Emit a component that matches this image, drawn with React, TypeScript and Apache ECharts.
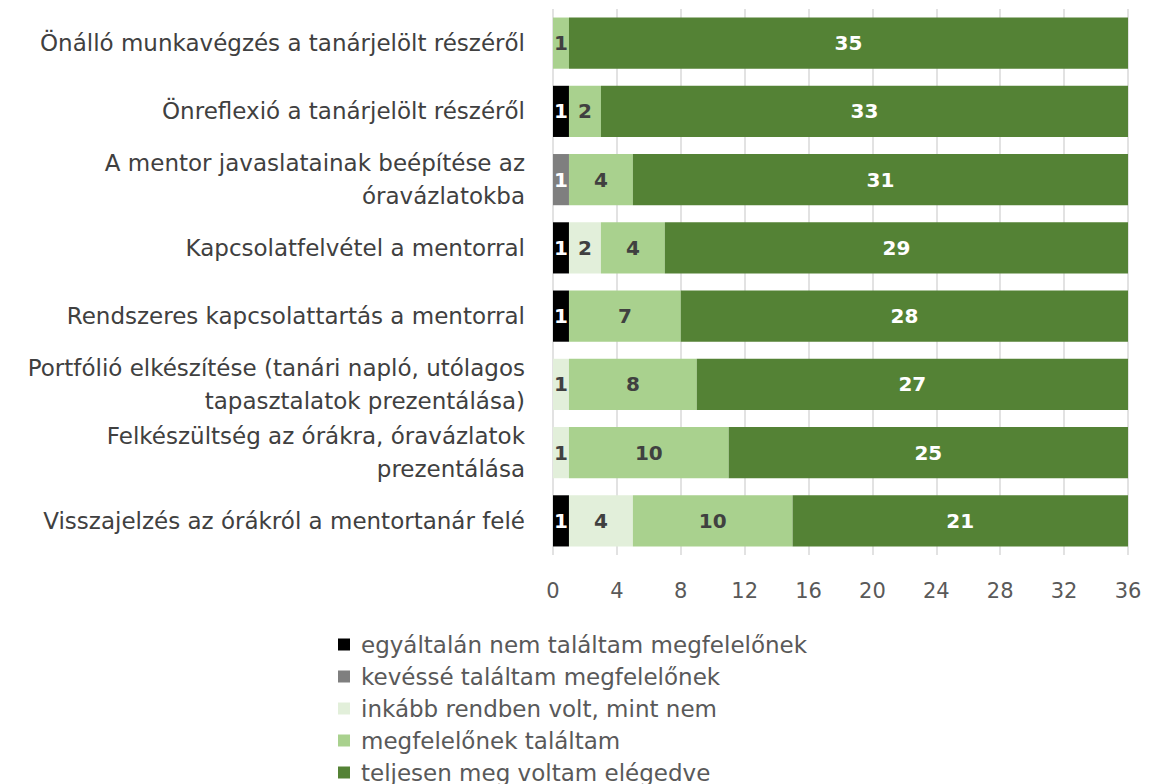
import React, { useEffect, useRef } from "react";
import * as echarts from "echarts";

const categories = [
  "Önálló munkavégzés a tanárjelölt részéről",
  "Önreflexió a tanárjelölt részéről",
  "A mentor javaslatainak beépítése az\nóravázlatokba",
  "Kapcsolatfelvétel a mentorral",
  "Rendszeres kapcsolattartás a mentorral",
  "Portfólió elkészítése (tanári napló, utólagos\ntapasztalatok prezentálása)",
  "Felkészültség az órákra, óravázlatok\nprezentálása",
  "Visszajelzés az órákról a mentortanár felé",
];

const seriesNames = [
  "egyáltalán nem találtam megfelelőnek",
  "kevéssé találtam megfelelőnek",
  "inkább rendben volt, mint nem",
  "megfelelőnek találtam",
  "teljesen meg voltam elégedve",
];

const notAtAll = [0, 1, 0, 1, 1, 0, 0, 1];
const slightly = [0, 0, 1, 0, 0, 0, 0, 0];
const ratherOk = [0, 0, 0, 2, 0, 1, 1, 4];
const adequate = [1, 2, 4, 4, 7, 8, 10, 10];
const fully = [35, 33, 31, 29, 28, 27, 25, 21];

const seriesValues = [notAtAll, slightly, ratherOk, adequate, fully];
const colors = ["#000000", "#7f7f7f", "#e2efda", "#a9d18e", "#548235"];
const labelColors = ["#ffffff", "#ffffff", "#404040", "#404040", "#ffffff"];

const xTicks = { min: 0, max: 36, interval: 4 };

const FONT = "'DejaVu Sans', sans-serif";

export default function App() {
  const ref = useRef<HTMLDivElement>(null);
  useEffect(() => {
    if (!ref.current) return;
    const chart = echarts.init(ref.current, null, { renderer: "svg" });
    chart.setOption({
      animation: false,
      color: colors,
      textStyle: { fontFamily: FONT },
      grid: { left: 553, right: 22, top: 9, bottom: 229, containLabel: false },
      legend: {
        orient: "vertical",
        left: 338,
        top: 633,
        height: 160,
        padding: 0,
        itemWidth: 12,
        itemHeight: 12,
        itemGap: 9,
        icon: "rect",
        textStyle: {
          fontSize: 23,
          color: "#595959",
          fontFamily: FONT,
          lineHeight: 23,
          padding: [0, 0, 0, 6],
        },
        data: seriesNames,
      },
      xAxis: {
        type: "value",
        min: xTicks.min,
        max: xTicks.max,
        interval: xTicks.interval,
        axisLine: { show: false },
        axisTick: { show: false },
        splitLine: { show: true, lineStyle: { color: "#d9d9d9", width: 1.5 } },
        axisLabel: { fontSize: 21, color: "#595959", margin: 25, fontFamily: FONT },
      },
      yAxis: {
        type: "category",
        inverse: true,
        data: categories,
        axisLine: { show: false },
        axisTick: { show: false },
        axisLabel: {
          fontSize: 23,
          color: "#404040",
          margin: 28,
          lineHeight: 33,
          align: "right",
          fontFamily: FONT,
        },
      },
      series: seriesValues.map((vals, i) => ({
        name: seriesNames[i],
        type: "bar",
        stack: "total",
        barCategoryGap: "25%",
        data: vals,
        itemStyle: { color: colors[i] },
        label: {
          show: true,
          position: "inside",
          color: labelColors[i],
          fontSize: 20,
          fontWeight: "bold",
          fontFamily: FONT,
          formatter: (p: any) => (p.value ? String(p.value) : ""),
        },
      })),
    });
    return () => chart.dispose();
  }, []);
  return <div ref={ref} style={{ width: 1150, height: 784, position: "absolute", left: 0, top: 0 }} />;
}
